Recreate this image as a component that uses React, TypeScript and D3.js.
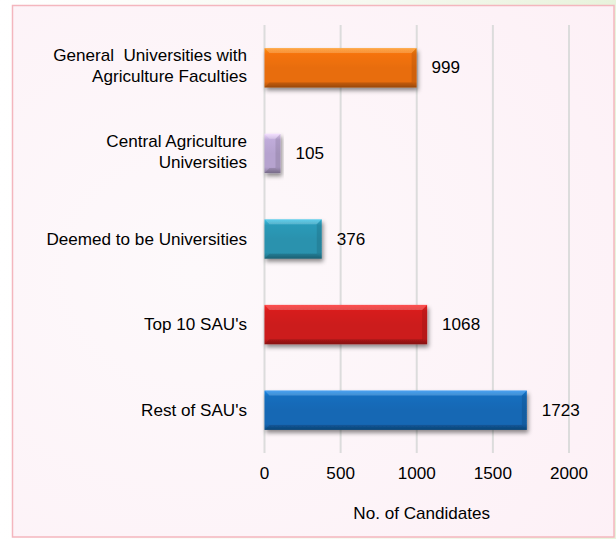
import React from "react";
import * as d3 from "d3";

const categories = [
  ["General  Universities with", "Agriculture Faculties"],
  ["Central Agriculture", "Universities"],
  ["Deemed to be Universities"],
  ["Top 10 SAU's"],
  ["Rest of SAU's"],
];
const values = [999, 105, 376, 1068, 1723];
const barColors = ["#E86D0E", "#B6A3CF", "#2A92AE", "#CC1C1C", "#1468B4"];
const xTicks = [0, 500, 1000, 1500, 2000];
const axisTitle = "No. of Candidates";

const W = 616;
const H = 539;

export default function App() {
  const x = d3.scaleLinear().domain([0, 2000]).range([264.5, 569]);
  const y = d3
    .scaleBand<number>()
    .domain(d3.range(categories.length))
    .range([25, 453])
    .paddingInner(0.54)
    .paddingOuter(0.27);
  const bw = y.bandwidth();
  const font = "'Liberation Sans', Arial, sans-serif";
  const fs = 16;
  const sx = 1.07;

  const T = (props: any) => {
    const { x: tx, y: ty, anchor, children } = props;
    return (
      <g transform={`translate(${tx},${ty}) scale(${sx},1)`}>
        <text x={0} y={0} dy="0.35em" textAnchor={anchor} fontSize={fs} fill="#000" style={{ whiteSpace: "pre" }}>
          {children}
        </text>
      </g>
    );
  };

  return (
    <svg
      width={W}
      height={H}
      style={{ position: "absolute", left: 0, top: 0 }}
      fontFamily={font}
    >
      <defs>
        <linearGradient id="outer" x1="0" y1="0" x2="1" y2="0">
          <stop offset="0" stopColor="#ffffff" />
          <stop offset="0.6" stopColor="#f6f9f0" />
          <stop offset="1" stopColor="#e8f3dc" />
        </linearGradient>
        <radialGradient id="panel" cx="0.3" cy="0.5" r="0.9">
          <stop offset="0" stopColor="#fdf9fb" />
          <stop offset="1" stopColor="#fdf0f6" />
        </radialGradient>
        <filter id="shadow" x="-10%" y="-30%" width="130%" height="180%">
          <feDropShadow dx="1.5" dy="3" stdDeviation="2" floodColor="#000" floodOpacity="0.45" />
        </filter>
        {barColors.map((c, i) => {
          const col = d3.color(c)!;
          return (
            <linearGradient key={i} id={`bar${i}`} x1="0" y1="0" x2="0" y2="1">
              <stop offset="0" stopColor={d3.color(c)!.brighter(0.8).formatHex()} />
              <stop offset="0.15" stopColor={col.brighter(0.15).formatHex()} />
              <stop offset="0.5" stopColor={c} />
              <stop offset="0.85" stopColor={c} />
              <stop offset="1" stopColor={d3.color(c)!.darker(0.8).formatHex()} />
            </linearGradient>
          );
        })}
      </defs>
      <rect x={0} y={0} width={W} height={H} fill="url(#outer)" />
      <rect
        x={12.5}
        y={5.5}
        width={601.5}
        height={531.5}
        fill="url(#panel)"
        stroke="#f4b6be"
        strokeWidth={1.5}
      />
      {xTicks.map((t) => (
        <line
          key={t}
          x1={x(t)}
          x2={x(t)}
          y1={25}
          y2={453}
          stroke="#dcdcdc"
          strokeWidth={2}
        />
      ))}
      {values.map((v, i) => {
        const y0 = y(i)!;
        const x0 = x(0);
        const x1 = x(v);
        const w = x1 - x0;
        const b = Math.min(5, w / 3);
        return (
          <g key={i}>
            <rect
              x={x0}
              y={y0}
              width={w}
              height={bw}
              fill={`url(#bar${i})`}
              filter="url(#shadow)"
            />
            <polygon
              points={`${x0},${y0} ${x1},${y0} ${x1 - b},${y0 + b} ${x0 + b},${y0 + b}`}
              fill="#ffffff"
              opacity={0.2}
            />
            <polygon
              points={`${x1},${y0} ${x1},${y0 + bw} ${x1 - b},${y0 + bw - b} ${x1 - b},${y0 + b}`}
              fill="#000000"
              opacity={0.1}
            />
            <polygon
              points={`${x0},${y0 + bw} ${x1},${y0 + bw} ${x1 - b},${y0 + bw - b} ${x0 + b},${y0 + bw - b}`}
              fill="#000000"
              opacity={0.12}
            />
            <T x={x1 + 15} y={y0 + bw / 2} anchor="start">
              {v}
            </T>
          </g>
        );
      })}
      {categories.map((lines, i) => {
        const cy = y(i)! + bw / 2 - (lines.length > 1 ? 2 : 0);
        const lh = 21;
        const start = cy - ((lines.length - 1) * lh) / 2;
        return (
          <g key={i}>
            {lines.map((l, j) => (
              <T key={j} x={247} y={start + j * lh} anchor="end">
                {l}
              </T>
            ))}
          </g>
        );
      })}
      {xTicks.map((t) => (
        <T key={t} x={x(t)} y={473} anchor="middle">
          {t}
        </T>
      ))}
      <T x={x(1000) + 5} y={513} anchor="middle">
        {axisTitle}
      </T>
    </svg>
  );
}
